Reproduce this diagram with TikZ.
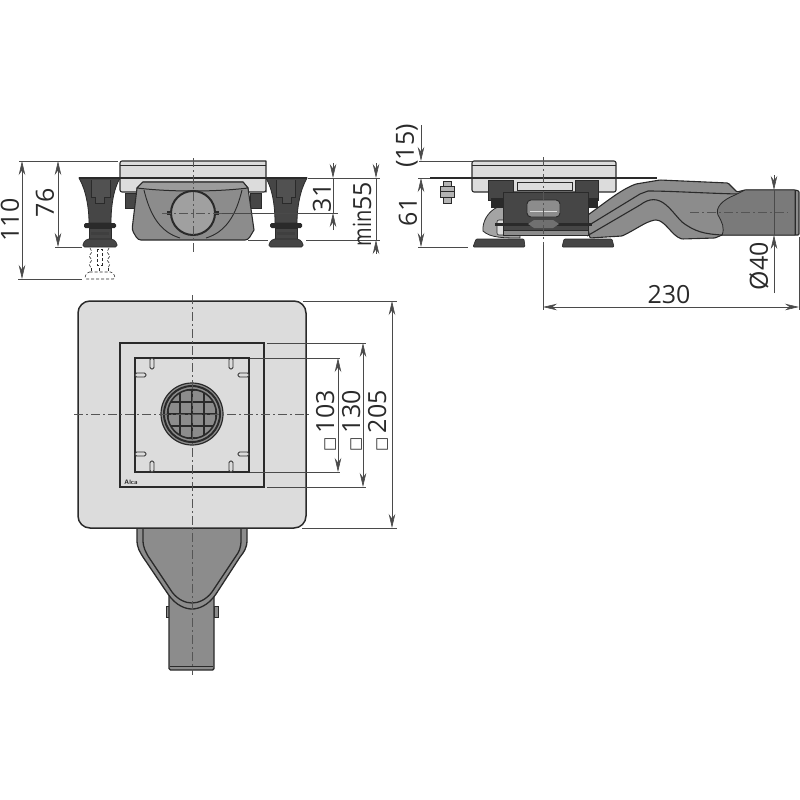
\documentclass[tikz,border=0pt]{standalone}
\usepackage{fontspec}
\setmainfont{Open Sans}
\newfontfamily\symfont{DejaVu Sans}
\newfontfamily\narrowfont[FakeStretch=0.8]{Open Sans}
\usetikzlibrary{arrows.meta}
\definecolor{platecol}{HTML}{DCDCDC}
\definecolor{bodycol}{HTML}{8C8C8C}
\definecolor{darkcol}{HTML}{464646}
\definecolor{inkcol}{HTML}{2A2A2A}
\tikzset{
  outline/.style={draw=inkcol,line width=1.1pt,line join=round},
  thinline/.style={draw=inkcol!85,line width=.6pt},
  axisline/.style={draw=inkcol!80,line width=.7pt,dash pattern=on 9pt off 3pt on 2pt off 3pt},
  dimline/.style={thinline,{Stealth[length=14pt,width=6.5pt]}-{Stealth[length=14pt,width=6.5pt]}},
  dimtip/.style={thinline,-{Stealth[length=14pt,width=6.5pt]}},
  dimtext/.style={font=\fontsize{25}{25}\selectfont,text=inkcol,inner sep=0pt},
  ghostline/.style={draw=inkcol,line width=.6pt,densely dashed},
}
% one adjustable foot, seen from the front
\newcommand{\footleg}{%
  \fill[darkcol,draw=inkcol,line width=.8pt] (79,178) -- (120,178) .. controls (113,190) and (111,208) .. (111,223) -- (89,223) .. controls (89,208) and (86,190) .. (79,178) -- cycle;
  \draw[inkcol,line width=.6pt,fill=darkcol!85!bodycol] (91,180) -- (91,197) -- (95,197) -- (95,203) -- (104,203) -- (104,197) -- (110,197) -- (110,180);
  \fill[inkcol,rounded corners=1.5pt] (84,223) rectangle (116,228);
  \fill[darkcol,draw=inkcol,line width=.6pt] (89,228) rectangle (111,239);
  \fill[inkcol!90] (91,232) rectangle (109,235);
  \fill[darkcol,draw=inkcol,line width=.6pt,rounded corners=1.5pt] (87,239) -- (113,239) -- (117,243) -- (117,247) -- (83,247) -- (83,243) -- cycle;
}
\begin{document}
\begin{tikzpicture}[x=1pt,y=-1pt]
\useasboundingbox (0,0) rectangle (800,800);

% front view
\draw[outline,fill=platecol] (120,161) -- (266,161) -- (266,192) [rounded corners=2pt] -- (266,192) -- (120,192) -- cycle;
\draw[inkcol,line width=.8pt] (120,165) -- (266,165);
\fill[darkcol,draw=inkcol,line width=.6pt] (125,193) rectangle (136,208);
\fill[darkcol,draw=inkcol,line width=.6pt] (250,193) rectangle (261,208);
\draw[outline,fill=bodycol] (137,188) -- (143,182) -- (243,182) -- (248,188) -- (254,230) [rounded corners=3pt] -- (248,240) -- (138,240) -- (132,230) [sharp corners] -- cycle;
\draw[inkcol,line width=1pt,fill=bodycol!80!platecol] (143,182) -- (243,182) -- (248,188) .. controls (215,192) and (170,192) .. (137,188) -- cycle;
\draw[inkcol,line width=.9pt] (144,190) .. controls (150,215) and (160,232) .. (180,238);
\draw[inkcol,line width=.9pt] (242,190) .. controls (236,215) and (226,232) .. (206,238);
\footleg
\begin{scope}[shift={(386,0)},xscale=-1]
\footleg
\end{scope}
\draw[inkcol,line width=1.8pt] (79,178) -- (307,178);
\draw[inkcol,line width=2pt,fill=bodycol!75!platecol] (193,213) circle (22);
\fill[inkcol] (167,211) rectangle (171,215);
\fill[inkcol] (215,211) rectangle (219,215);
\draw[axisline] (193,158) -- (193,252);
\draw[axisline] (162,213) -- (222,213);
% ghost of the extended foot
\draw[ghostline] (90,248) -- (92,252) -- (89,256) -- (92,260) -- (89,264) -- (91,268);
\draw[ghostline] (109,248) -- (107,252) -- (110,256) -- (107,260) -- (110,264) -- (108,268);
\draw[ghostline] (97,249) rectangle (102,265);
\draw[ghostline] (91,268) -- (91,272) (99,268) -- (99,272) (108,268) -- (108,272);
\draw[ghostline,rounded corners=1.5pt] (88,272) -- (112,272) -- (115,276) -- (115,279) -- (85,279) -- (85,276) -- cycle;

% dimensions of the front view
\draw[thinline] (19,161) -- (118,161);
\draw[thinline] (18,279) -- (82,279);
\draw[thinline] (55,247) -- (82,247);
\draw[dimline] (22,161) -- (22,279);
\draw[dimline] (58,161) -- (58,247);
\node[dimtext,rotate=90] (dimA) at (10,220) {110};
\node[dimtext,rotate=90] (dimB) at (45,203) {76};
\draw[thinline] (308,178) -- (380,178);
\draw[thinline] (222,213) -- (338,213);
\draw[thinline] (248,240) -- (268,240);
\draw[thinline] (306,240) -- (380,240);
\draw[dimtip] (333,163) -- (333,178);
\draw[thinline] (333,178) -- (333,213);
\draw[dimtip] (333,230) -- (333,213);
\draw[dimtip] (376,163) -- (376,178);
\draw[thinline] (376,178) -- (376,240);
\draw[dimtip] (376,254) -- (376,240);
\node[dimtext,rotate=90] (dimC) at (322,198) {31};
\node[dimtext,rotate=90] (dimD) at (362,214) {{\narrowfont min}55};

% side view
\draw[outline,fill=platecol,rounded corners=2pt] (472,161) -- (616,161) -- (616,192) -- (472,192) -- cycle;
\draw[inkcol,line width=.8pt] (472,165) -- (616,165);
\draw[outline,fill=bodycol,rounded corners=1pt] (585,217) .. controls (605,203) and (620,190) .. (636,184) -- (660,180) -- (728,183) -- (737,192) -- (745,190) -- (795,190) -- (799,191) -- (799,235) -- (722,235) -- (715,238) -- (682,239) .. controls (672,236) and (665,220) .. (655,220) .. controls (645,222) and (635,230) .. (622,236) -- (590,238) -- cycle;
\draw[inkcol,line width=1.1pt] (586,227) -- (640,194) -- (648,191) .. controls (670,191) and (700,193) .. (737,194);
\draw[inkcol,line width=1.1pt] (587,236) -- (640,205) .. controls (660,190) and (670,210) .. (682,222) .. controls (695,232) and (705,234) .. (722,235);
\fill[bodycol!75!darkcol,draw=inkcol,line width=.8pt] (735,195) .. controls (722,200) and (715,208) .. (718,215) .. controls (722,222) and (725,228) .. (722,235) -- (795,235) -- (795,190) -- (745,190) -- cycle;
\draw[inkcol,line width=.8pt] (795,190) -- (795,235);
\draw[axisline] (690,212) -- (788,212);
% gray shell behind the frame
\draw[inkcol,line width=.8pt,fill=bodycol!70!platecol] (498,207) .. controls (488,211) and (482,222) .. (483,231) .. controls (490,238) and (505,238) .. (520,238) -- (520,207) -- cycle;
\fill[platecol,draw=inkcol,line width=.6pt,rounded corners=2pt] (505,220) -- (497,220) -- (497,235) -- (505,235);
% frame
\fill[darkcol,draw=inkcol,line width=.6pt] (488,180) rectangle (513,200);
\fill[darkcol,draw=inkcol,line width=.6pt] (575,180) rectangle (598,200);
\fill[platecol,draw=inkcol,line width=.6pt] (517,182) rectangle (572,190);
\fill[darkcol,draw=inkcol,line width=.6pt] (503,192) rectangle (588,230);
\fill[inkcol] (495,223) rectangle (592,226);
\fill[bodycol!60!darkcol] (528,224) -- (534,220) -- (553,220) -- (559,224) -- (553,228) -- (534,228) -- cycle;
\draw[inkcol,line width=.9pt,fill=bodycol,rounded corners=4pt] (527,200) rectangle (560,217);
\draw[platecol,line width=.8pt] (530,211) -- (557,211);
\fill[bodycol,draw=inkcol,line width=.6pt] (503,230) rectangle (588,235);
\fill[inkcol] (491,198) rectangle (503,208);
\fill[inkcol] (588,198) rectangle (598,208);
\fill[darkcol,draw=inkcol,line width=.6pt,rounded corners=1pt] (476,239) -- (524,239) -- (525,247) -- (473,247) -- cycle;
\fill[darkcol,draw=inkcol,line width=.6pt,rounded corners=1pt] (564,239) -- (612,239) -- (614,247) -- (562,247) -- cycle;
\draw[inkcol,line width=2pt] (430,178) -- (657,178);
\draw[inkcol,line width=1pt,fill=bodycol!50!platecol] (443,181) rectangle (451,203);
\draw[inkcol,line width=1pt,fill=bodycol!50!platecol] (440,186) rectangle (454,197);
\draw[inkcol,line width=1pt] (440,191.5) -- (454,191.5);
\draw[axisline] (543,157) -- (543,245);

% dimensions of the side view
\draw[thinline] (419,161) -- (472,161);
\draw[thinline] (418,247) -- (468,247);
\draw[thinline] (430,178) -- (418,178);
\draw[dimtip] (421,125) -- (421,161);
\draw[dimline] (421,178) -- (421,247);
\node[dimtext,rotate=90] (dimE) at (407,146) {(15)};
\node[dimtext,rotate=90] (dimF) at (408,212) {61};
\draw[thinline] (543,245) -- (543,310);
\draw[thinline] (799,237) -- (799,310);
\draw[dimline] (543,307) -- (799,307);
\node[dimtext] (dimG) at (669,295) {230};
\draw[dimtip] (774,175) -- (774,190);
\draw[thinline] (774,190) -- (774,235);
\draw[dimtip] (774,293) -- (774,235);
\node[dimtext,rotate=90] (dimH) at (759,266) {Ø40};

% top view: outlet
\fill[bodycol,draw=inkcol,line width=1pt] (166,606) rectangle (170,617);
\fill[bodycol,draw=inkcol,line width=1pt] (214,606) rectangle (218,617);
\draw[outline,fill=bodycol,line width=1.4pt,rounded corners=1.5pt] (169,590) -- (169,670) -- (214,670) -- (214,590);
\draw[inkcol,line width=.9pt] (170,666) -- (213,666);
\draw[outline,fill=bodycol,line width=1.3pt] (137,526) -- (137,540) .. controls (137,548) and (140,552) .. (143,557) -- (168,594) .. controls (176,606) and (186,609) .. (192,609) .. controls (198,609) and (208,606) .. (216,594) -- (240,557) .. controls (244,552) and (247,548) .. (247,540) -- (247,526) -- cycle;
\draw[inkcol,line width=1.3pt] (143,528) -- (143,540) .. controls (143,548) and (146,552) .. (148,556) -- (172,592) .. controls (178,600) and (186,603) .. (192,603) .. controls (198,603) and (206,600) .. (212,592) -- (236,556) .. controls (239,552) and (241,548) .. (241,540) -- (241,528);

% top view: plate
\draw[outline,fill=platecol,line width=1.5pt,rounded corners=12pt] (78,301) rectangle (306,528);
\draw[inkcol,line width=1.3pt] (120,343) rectangle (264,487);
\draw[inkcol,line width=1.2pt] (135,358) rectangle (249,472);
\foreach \slotx in {152,231}{
  \draw[inkcol,line width=.9pt,fill=platecol,rounded corners=1.5pt] (\slotx-2,358) rectangle (\slotx+2,369);
  \draw[inkcol,line width=.9pt,fill=platecol,rounded corners=1.5pt] (\slotx-2,461) rectangle (\slotx+2,472);
}
\foreach \sloty in {375,454}{
  \draw[inkcol,line width=.9pt,fill=platecol,rounded corners=1.5pt] (135,\sloty-2) rectangle (146,\sloty+2);
  \draw[inkcol,line width=.9pt,fill=platecol,rounded corners=1.5pt] (238,\sloty-2) rectangle (249,\sloty+2);
}
\draw[inkcol,line width=1.2pt,fill=bodycol] (192,414) circle (31);
\draw[inkcol,line width=2pt,fill=bodycol] (192,414) circle (28);
\draw[inkcol,line width=1.6pt,fill=bodycol] (192,414) circle (24.5);
\begin{scope}
\clip (192,414) circle (24);
\foreach \gridk in {-24,-12,0,12,24}{
  \draw[inkcol,line width=2.4pt] (192+\gridk,388) -- (192+\gridk,440);
  \draw[inkcol,line width=2.4pt] (166,414+\gridk) -- (218,414+\gridk);
}
\end{scope}
\draw[axisline] (192,295) -- (192,675);
\draw[axisline] (74,414) -- (310,414);
\node[font=\sffamily\bfseries\fontsize{6.5}{6.5}\selectfont,text=inkcol,inner sep=0pt] (logoA) at (131,482) {Alca};

% dimensions of the top view
\draw[thinline] (250,358) -- (340,358);
\draw[thinline] (250,472) -- (340,472);
\draw[thinline] (267,343) -- (366,343);
\draw[thinline] (267,487) -- (366,487);
\draw[thinline] (303,301) -- (397,301);
\draw[thinline] (302,528) -- (397,528);
\draw[dimline] (338,358) -- (338,472);
\draw[dimline] (363,343) -- (363,487);
\draw[dimline] (392,301) -- (392,528);
\node[dimtext,rotate=90] (dimI) at (326,421) {{\symfont\fontsize{15}{15}\selectfont □}\,103};
\node[dimtext,rotate=90] (dimJ) at (352,421) {{\symfont\fontsize{15}{15}\selectfont □}\,130};
\node[dimtext,rotate=90] (dimK) at (378,421) {{\symfont\fontsize{15}{15}\selectfont □}\,205};
\end{tikzpicture}
\end{document}
